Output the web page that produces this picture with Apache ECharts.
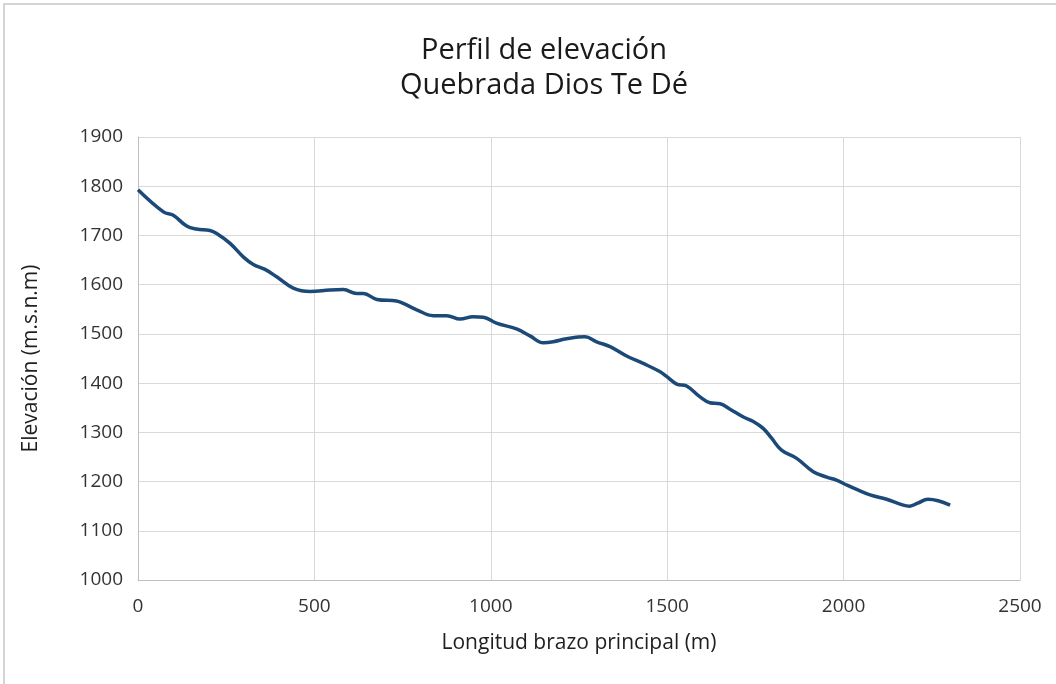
<!DOCTYPE html>
<html>
<head>
<meta charset="utf-8">
<script src="https://cdn.jsdelivr.net/npm/echarts@6/dist/echarts.min.js"></script>
<style>
  html, body { margin: 0; padding: 0; background: #fff; }
  #frame {
    position: absolute; left: 3px; top: 3px; width: 1060px; height: 700px;
    border: 2px solid #d4d4d4; box-sizing: border-box;
  }
  #chart { position: absolute; left: 0; top: 0; width: 1056px; height: 684px; }
</style>
</head>
<body>
<div id="frame"></div>
<div id="chart"></div>
<script>
// distancia a lo largo del cauce (m)
const distancia = [0, 72, 100, 138, 166, 204, 223, 261, 299, 327, 360, 393, 440, 488,
  544, 582, 620, 639, 677, 733, 752, 790, 837, 875, 913, 950, 979, 1016, 1073, 1111,
  1149, 1177, 1215, 1267, 1300, 1338, 1385, 1432, 1480, 1499, 1527, 1555, 1593, 1621,
  1650, 1678, 1716, 1744, 1772, 1796, 1824, 1867, 1914, 1952, 1980, 2009, 2037, 2075,
  2122, 2169, 2187, 2210, 2239, 2268, 2302];
// elevación (m.s.n.m)
const elevacion = [1793, 1748, 1741, 1719, 1713, 1710, 1704, 1684, 1656, 1641, 1631, 1616,
  1593, 1586, 1589, 1590, 1582, 1582, 1570, 1567, 1562, 1549, 1537, 1537, 1530, 1535,
  1534, 1522, 1510, 1496, 1482, 1484, 1490, 1494, 1484, 1474, 1455, 1440, 1423, 1413,
  1398, 1394, 1372, 1360, 1358, 1347, 1331, 1322, 1308, 1288, 1264, 1247, 1220, 1209,
  1203, 1193, 1184, 1173, 1164, 1152, 1150, 1156, 1164, 1161, 1152];

const font = "'Open Sans', sans-serif";
const chart = echarts.init(document.getElementById('chart'));

chart.setOption({
  backgroundColor: 'transparent',
  animation: false,
  title: {
    text: 'Perfil de elevación\nQuebrada Dios Te Dé',
    left: 539,
    textAlign: 'center',
    top: 28,
    textStyle: { fontFamily: font, fontSize: 29, fontWeight: 'normal', color: '#1a1a1a', lineHeight: 35 }
  },
  grid: { left: 138, right: 36, top: 137, bottom: 104 },
  xAxis: {
    type: 'value',
    min: 0,
    max: 2500,
    interval: 500,
    name: 'Longitud brazo principal (m)',
    nameLocation: 'middle',
    nameGap: 53,
    nameTextStyle: { fontFamily: font, fontSize: 21, color: '#1f1f1f' },
    axisLine: { show: true, lineStyle: { color: '#bfbfbf', width: 1 } },
    axisTick: { show: false },
    axisLabel: { fontFamily: font, fontSize: 19, color: '#333333', margin: 17, formatter: v => String(v) },
    splitLine: { show: true, lineStyle: { color: '#d9d9d9', width: 1 } }
  },
  yAxis: {
    type: 'value',
    min: 1000,
    max: 1900,
    interval: 100,
    name: 'Elevación (m.s.n.m)',
    nameLocation: 'middle',
    nameGap: 96,
    nameRotate: 90,
    nameTextStyle: { fontFamily: font, fontSize: 21, color: '#1f1f1f' },
    axisLine: { show: true, lineStyle: { color: '#bfbfbf', width: 1 } },
    axisTick: { show: false },
    axisLabel: { fontFamily: font, fontSize: 19, color: '#333333', margin: 15, formatter: v => String(v) },
    splitLine: { show: true, lineStyle: { color: '#d9d9d9', width: 1 } }
  },
  series: [{
    type: 'line',
    data: distancia.map((d, i) => [d, elevacion[i]]),
    smooth: 0.4,
    showSymbol: false,
    lineStyle: { color: '#1c4a78', width: 3.5 }
  }]
});
</script>
</body>
</html>
